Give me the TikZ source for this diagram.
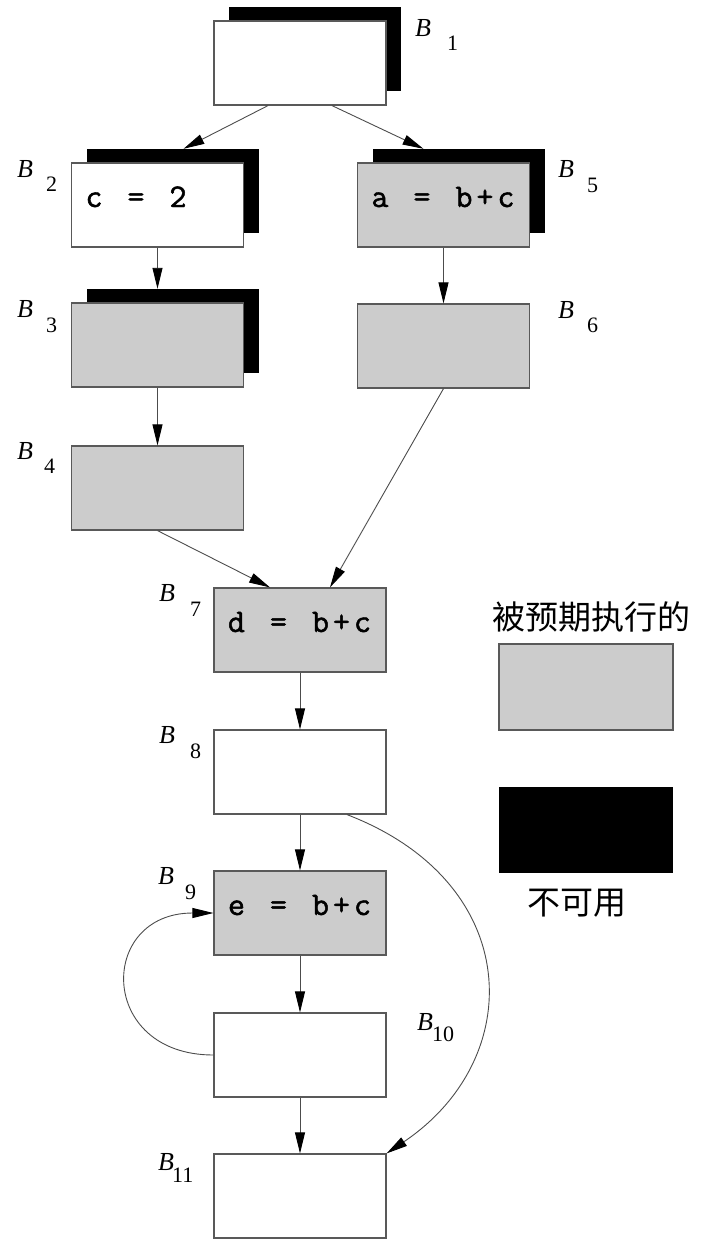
\documentclass[tikz,border=0pt]{standalone}
\usepackage{fontspec}
\setmainfont{Liberation Serif}
\newfontfamily\codefont{Latin Modern Mono}[FakeBold=1.5]
\newfontfamily\cjk{Noto Sans CJK SC}
\usetikzlibrary{calc,arrows.meta}
\newcommand{\blab}[3]{\makebox[#2pt][l]{\itshape B}\raisebox{-#3pt}{\fontsize{22}{22}\selectfont #1}}
\newcommand{\codeln}[1]{\ifx#1\relax\else\makebox[21pt][c]{#1}\expandafter\codeln\fi}
\begin{document}
\begin{tikzpicture}[x=1pt,y=-1pt,
  blk/.style={draw=black!65,fill=white,line width=1.2pt,minimum width=172pt,minimum height=84pt,
    inner xsep=12pt,inner ysep=0pt,text width=148pt,align=left,text height=16pt,text depth=12pt,
    font=\fontsize{33}{33}\codefont},
  antc/.style={blk,fill=black!20},
  shd/.style={fill=black,minimum width=172pt,minimum height=84pt,inner sep=0pt},
  lbl/.style={anchor=base west,inner sep=0pt,font=\fontsize{26}{26}\selectfont},
  key/.style={font=\cjk\fontsize{33}{33}\selectfont,inner sep=0pt},
  conn/.style={-{Triangle[length=21pt,width=10pt,color=black]},draw=black!70,line width=0.9pt}]
  \useasboundingbox (0,0) rectangle (707,1239);
  \node[shd] (s1) at (315,49) {};
  \node[blk] (b1) at (300,63) {};
  \node[shd] (s2) at (172.5,191) {};
  \node[blk] (b2) at (157.5,205) {\codeln c~=~2\relax};
  \node[shd] (s3) at (172.5,331) {};
  \node[antc] (b3) at (157.5,345) {};
  \node[antc] (b4) at (157.5,488) {};
  \node[shd] (s5) at (458.5,191) {};
  \node[antc] (b5) at (443.5,205) {\codeln a~=~b+c\relax};
  \node[antc] (b6) at (443.5,346) {};
  \node[antc] (b7) at (300,630) {\codeln d~=~b+c\relax};
  \node[blk] (b8) at (300,772) {};
  \node[antc] (b9) at (300,913) {\codeln e~=~b+c\relax};
  \node[blk] (b10) at (300,1055) {};
  \node[blk] (b11) at (300,1196) {};
  \node[lbl] (l1) at (415,37) {\blab{1}{32}{14}};
  \node[lbl] (l2) at (17,177) {\blab{2}{29}{14}};
  \node[lbl] (l3) at (17,317) {\blab{3}{29}{15}};
  \node[lbl] (l4) at (17,459) {\blab{4}{27}{14}};
  \node[lbl] (l5) at (558,177) {\blab{5}{29}{15}};
  \node[lbl] (l6) at (558,318) {\blab{6}{29}{14}};
  \node[lbl] (l7) at (159,601) {\blab{7}{31}{15}};
  \node[lbl] (l8) at (159,743) {\blab{8}{31}{15}};
  \node[lbl] (l9) at (158,884) {\blab{9}{27}{15}};
  \node[lbl] (l10) at (417,1030) {\blab{10}{15}{11}};
  \node[lbl] (l11) at (158,1170) {\blab{11}{14}{12}};
  \node[key] (tant) at (591,617) {被预期执行的};
  \node[antc,minimum width=174pt,minimum height=86pt] (kant) at (586,687) {};
  \node[shd,minimum width=174pt,minimum height=86pt] (kunav) at (586,829.5) {};
  \node[key] (tunav) at (577,903) {不可用};
  \draw[conn] ([xshift=-32pt]b1.south) -- ([xshift=11pt]s2.north);
  \draw[conn] ([xshift=32pt]b1.south) -- ([xshift=-35pt]s5.north);
  \draw[conn] (b2.south) -- ([xshift=-15pt]s3.north);
  \draw[conn] (b3.south) -- (b4.north);
  \draw[conn] (b5.south) -- (b6.north);
  \draw[conn] (b4.south) -- ([xshift=-30pt]b7.north);
  \draw[conn] (b6.south) -- ([xshift=30pt]b7.north);
  \path[conn] (b7) edge (b8) (b8) edge (b9) (b9) edge (b10) (b10) edge (b11);
  \draw[conn] (b10.west) .. controls +(-116,0) and +(-116,0) .. (b9.west);
  \draw[conn] ([xshift=47pt]b8.south) .. controls +(177,68) and +(141,-95) .. (b11.north east);
\end{tikzpicture}
\end{document}
